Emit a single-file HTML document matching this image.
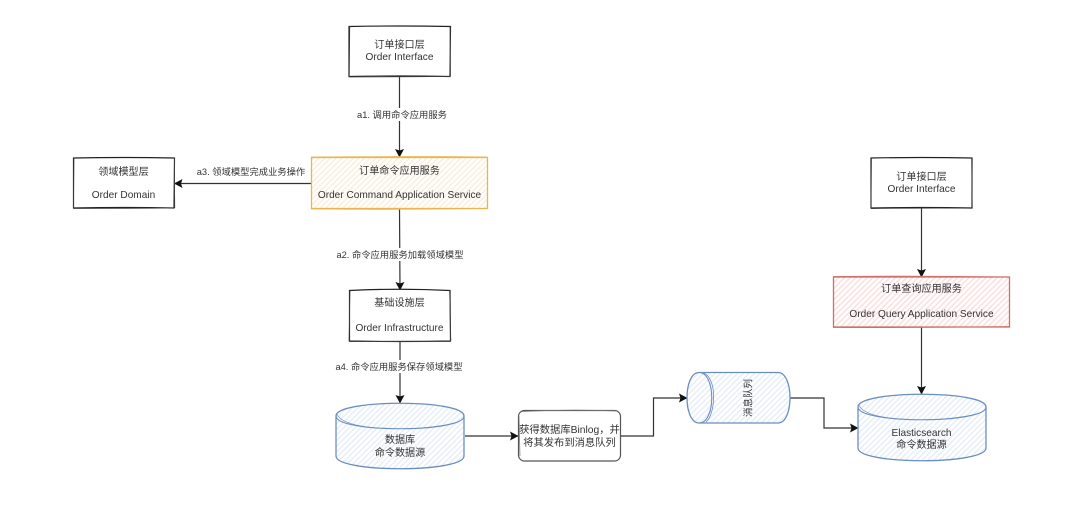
<!DOCTYPE html>
<html><head><meta charset="utf-8">
<style>
html,body{margin:0;padding:0;background:#fff;}
svg{display:block;filter:blur(0.3px);}
text{font-family:"Liberation Sans","Noto Sans CJK SC",sans-serif;font-size:10.1px;fill:#333;text-anchor:middle;}
text.s{font-size:9.3px;}
</style></head>
<body>
<svg width="1080" height="531" viewBox="0 0 1080 531" xmlns="http://www.w3.org/2000/svg">
<defs>
<pattern id="ho" width="4" height="4" patternUnits="userSpaceOnUse" patternTransform="rotate(-45)"><rect width="4" height="4" fill="#fff"/><line x1="0" y1="1.500" x2="4" y2="1.500" stroke="#fbeedb" stroke-width="1.500"/></pattern>
<pattern id="hr" width="4" height="4" patternUnits="userSpaceOnUse" patternTransform="rotate(-45)"><rect width="4" height="4" fill="#fff"/><line x1="0" y1="1.500" x2="4" y2="1.500" stroke="#f9dfdd" stroke-width="1.500"/></pattern>
<pattern id="hb" width="4" height="4" patternUnits="userSpaceOnUse" patternTransform="rotate(-45)"><rect width="4" height="4" fill="#fff"/><line x1="0" y1="1.500" x2="4" y2="1.500" stroke="#e6eef8" stroke-width="1.500"/></pattern>
<marker id="a" markerWidth="9" markerHeight="10" refX="8" refY="5" orient="auto" markerUnits="userSpaceOnUse"><path d="M0,0.500 L8.500,5 L0,9.500 L1.500,5 Z" fill="#111"/></marker>
</defs>

<!-- connectors -->
<g fill="none" stroke="#333" stroke-width="1.200">
<path d="M399.500 77V157" marker-end="url(#a)"/>
<path d="M311 183.500H174.500" marker-end="url(#a)"/>
<path d="M399.500 208L400 290" marker-end="url(#a)"/>
<path d="M400 341V403" marker-end="url(#a)"/>
<path d="M465 436H518" marker-end="url(#a)"/>
<path d="M621 436H653.500V398H687" marker-end="url(#a)"/>
<path d="M790 398H824V428H858" marker-end="url(#a)"/>
<path d="M921.500 208V277" marker-end="url(#a)"/>
<path d="M921.500 327V394" marker-end="url(#a)"/>
</g>

<!-- connector labels -->
<rect x="355" y="108" width="93" height="13" fill="#fff"/>
<text class="s" x="402" y="118">a1. 调用命令应用服务</text>
<rect x="196" y="165" width="110" height="13" fill="#fff"/>
<text class="s" x="251" y="175">a3. 领域模型完成业务操作</text>
<rect x="336" y="248" width="128" height="13" fill="#fff"/>
<text class="s" x="400" y="258">a2. 命令应用服务加载领域模型</text>
<rect x="335" y="360" width="128" height="13" fill="#fff"/>
<text class="s" x="399" y="370">a4. 命令应用服务保存领域模型</text>

<!-- plain boxes -->
<g fill="#fff" stroke="#222" stroke-width="1.200">
<path d="M349 26.500Q400 25.500 450.500 26.500L450 76.500Q400 75.500 349 76.500Z"/>
<path d="M73.500 158Q124 157 174.500 158L174 208Q124 207 73.500 208Z"/>
<path d="M349.500 290.500Q400 288 450 290.500L450.500 341Q400 342 349.500 341Z"/>
<path d="M871 158Q921 157 972 158L972 208Q921 207 871 208Z"/>
</g>
<g fill="none" stroke="#444" stroke-width="0.700">
<path d="M349.800 26L349.300 77M450 26L450.500 76M349 77Q400 77 450 76.500"/>
<path d="M74 157.500L73.500 208.500M174.300 157.500L174.800 208M73.500 208.500Q124 208.500 174.500 208"/>
<path d="M350 290L349 341.500M449.600 290L450.800 341M349.500 341.600Q400 341 450 341.500"/>
<path d="M871.500 157.500L871 208.500M971.600 157.500L972.300 208M871 208.600Q921 208 972 208.300"/>
</g>
<text x="399.500" y="48">订单接口层</text>
<text x="399.500" y="60">Order Interface</text>
<text x="123.500" y="175">领域模型层</text>
<text x="123.500" y="198">Order Domain</text>
<text x="399.500" y="306">基础设施层</text>
<text x="399.500" y="331">Order Infrastructure</text>
<text x="921.500" y="180">订单接口层</text>
<text x="921.500" y="192">Order Interface</text>

<!-- orange box -->
<rect x="311.500" y="157.500" width="176" height="51" fill="url(#ho)" stroke="#eab54e" stroke-width="1.300"/>
<path d="M311 157Q400 155.800 487.500 157M311 209Q400 210 487.500 208.500" fill="none" stroke="#eab54e" stroke-width="0.700"/>
<text x="399.500" y="174">订单命令应用服务</text>
<text x="399.500" y="198">Order Command Application Service</text>

<!-- red box -->
<rect x="833.500" y="277" width="176" height="50" fill="url(#hr)" stroke="#cf6f6b" stroke-width="1.300"/>
<path d="M833 276.500Q921 275.500 1009.500 277M833 327.500Q921 328 1009.500 326.500" fill="none" stroke="#cf6f6b" stroke-width="0.700"/>
<text x="921.500" y="292">订单查询应用服务</text>
<text x="921.500" y="317">Order Query Application Service</text>

<!-- left cylinder -->
<path d="M336 416C336 399 464 399 464 416V456C464 473 336 473 336 456Z" fill="url(#hb)" stroke="#6c8ebf" stroke-width="1.300"/>
<path d="M336 416C336 433 464 433 464 416" fill="none" stroke="#6c8ebf" stroke-width="1.100"/>
<path d="M337 414C345 436 455 430 464 418" fill="none" stroke="#6c8ebf" stroke-width="0.600"/>
<text x="400" y="443">数据库</text>
<text x="400" y="456">命令数据源</text>

<!-- rounded box -->
<rect x="518.500" y="410.500" width="102" height="50.500" rx="6" fill="#fff" stroke="#555" stroke-width="1.200"/>
<path d="M522 411.500Q570 409 617 411M519 416L520 456" fill="none" stroke="#777" stroke-width="0.700"/>
<text x="569.500" y="433" style="font-size:10.300px">获得数据库Binlog，并</text>
<text x="569.500" y="446" style="font-size:10.300px">将其发布到消息队列</text>

<!-- queue -->
<path d="M699 372.500H778C794 372.500 794 423 778 423H699C683 423 683 372.500 699 372.500Z" fill="url(#hb)" stroke="#6c8ebf" stroke-width="1.300"/>
<path d="M699 372.500C716 372.500 716 423 699 423" fill="none" stroke="#6c8ebf" stroke-width="1.100"/>
<path d="M704 373C718 380 715 415 706 422" fill="none" stroke="#6c8ebf" stroke-width="0.800"/>
<text x="0" y="0" transform="translate(748 398) rotate(-90)" dy="3.500" style="font-size:9.500px">消息队列</text>

<!-- right cylinder -->
<path d="M858 407C858 390 986 390 986 407V448C986 465 858 465 858 448Z" fill="url(#hb)" stroke="#6c8ebf" stroke-width="1.300"/>
<path d="M858 407C858 424 986 424 986 407" fill="none" stroke="#6c8ebf" stroke-width="1.100"/>
<path d="M859 405C867 427 977 421 986 409" fill="none" stroke="#6c8ebf" stroke-width="0.600"/>
<text x="921.500" y="436">Elasticsearch</text>
<text x="921.500" y="448">命令数据源</text>
</svg>
</body></html>
